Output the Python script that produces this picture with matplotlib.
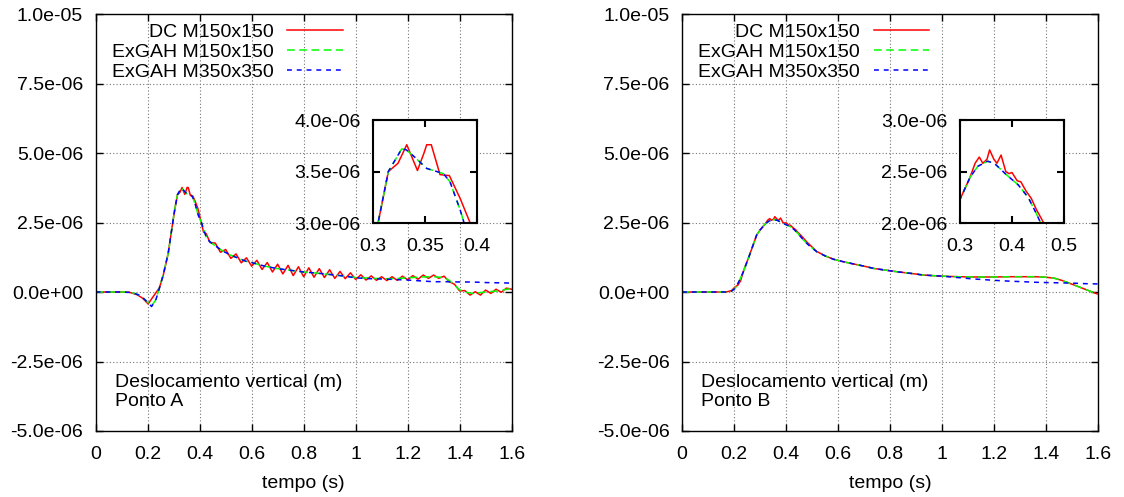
import matplotlib
matplotlib.use("Agg")
import matplotlib.pyplot as plt
from matplotlib.ticker import FuncFormatter
import numpy as np

plt.rcParams['font.family'] = ['Liberation Sans', 'DejaVu Sans']
plt.rcParams['font.size'] = 14

labels = ['DC M150x150', 'ExGAH M150x150', 'ExGAH M350x350']
colors = ['#ff0000', '#00ff00', '#0000ff']

# ponto A (valores em 1e-6 m)
tA_dc = [0, 0.10, 0.13, 0.16, 0.18, 0.202, 0.215, 0.23, 0.245, 0.26, 0.279, 0.298,
         0.305, 0.3147, 0.324, 0.3324, 0.3427, 0.349, 0.3516, 0.356, 0.3644, 0.3734,
         0.3837, 0.393, 0.405, 0.415, 0.425, 0.44,
         0.46, 0.48, 0.50, 0.52, 0.54, 0.56, 0.58, 0.60, 0.62, 0.64, 0.66, 0.68, 0.70,
         0.72, 0.74, 0.76, 0.78, 0.80, 0.82, 0.84, 0.86, 0.88, 0.90, 0.92, 0.94, 0.96,
         0.98, 1.00, 1.02, 1.04, 1.06, 1.08, 1.10, 1.12, 1.14, 1.16, 1.18, 1.20, 1.22,
         1.24, 1.26, 1.28, 1.30, 1.32, 1.34, 1.36, 1.38, 1.40, 1.42, 1.44, 1.46, 1.48,
         1.50, 1.52, 1.54, 1.56, 1.58, 1.60]
yA_dc = [0, 0, -0.01, -0.10, -0.22, -0.43, -0.25, -0.05, 0.15, 0.60, 1.39, 2.59,
         3.01, 3.50, 3.58, 3.76, 3.51, 3.68, 3.76, 3.76, 3.47, 3.46,
         3.24, 3.01, 2.55, 2.15, 2.10, 1.78,
         1.76, 1.43, 1.53, 1.21, 1.37, 1.05, 1.23, 0.93, 1.14, 0.81, 1.06, 0.72, 1.00,
         0.65, 0.96, 0.59, 0.91, 0.55, 0.87, 0.53, 0.84, 0.52, 0.80, 0.49, 0.74, 0.48,
         0.69, 0.45, 0.62, 0.43, 0.58, 0.42, 0.55, 0.41, 0.55, 0.42, 0.57, 0.44, 0.59,
         0.46, 0.61, 0.49, 0.61, 0.49, 0.57, 0.37, 0.28, 0.04, 0.05, -0.11, 0.01, -0.11,
         0.07, -0.05, 0.10, -0.01, 0.14, 0.10]

tA_g150 = [0, 0.10, 0.14, 0.17, 0.19, 0.215, 0.23, 0.241, 0.26, 0.279, 0.298, 0.305,
           0.3147, 0.3276, 0.332, 0.34, 0.3516, 0.3676, 0.374, 0.3837, 0.395, 0.408,
           0.427, 0.44, 0.465, 0.48, 0.50, 0.52, 0.54, 0.56, 0.58, 0.60, 0.65, 0.70,
           0.75, 0.80, 0.85, 0.90, 0.95, 1.00, 1.05, 1.10, 1.15, 1.20, 1.25, 1.30, 1.34,
           1.36, 1.38, 1.40, 1.42, 1.45, 1.50, 1.55, 1.60]
yA_g150 = [0, 0, -0.02, -0.12, -0.28, -0.50, -0.30, 0.01, 0.62, 1.39, 2.59, 3.01,
           3.50, 3.72, 3.71, 3.64, 3.53, 3.48, 3.40, 3.13, 2.75, 2.47,
           1.93, 1.80, 1.63, 1.53, 1.42, 1.32, 1.25, 1.17, 1.10, 1.06, 0.93, 0.84,
           0.78, 0.72, 0.68, 0.63, 0.58, 0.52, 0.50, 0.48, 0.48, 0.51, 0.54, 0.55, 0.52,
           0.42, 0.25, 0.08, 0.00, -0.05, 0.00, 0.04, 0.13]

tA_g350 = [0, 0.10, 0.14, 0.17, 0.19, 0.215, 0.23, 0.241, 0.26, 0.279, 0.298, 0.305,
           0.3147, 0.3276, 0.332, 0.34, 0.3516, 0.3676, 0.374, 0.3837, 0.395, 0.408,
           0.427, 0.44, 0.465, 0.48, 0.50, 0.52, 0.54, 0.56, 0.58, 0.60, 0.65, 0.70,
           0.75, 0.80, 0.85, 0.90, 0.95, 1.00, 1.05, 1.10, 1.15, 1.20, 1.25, 1.30, 1.35,
           1.40, 1.45, 1.50, 1.55, 1.60]
yA_g350 = [0, 0, -0.02, -0.12, -0.28, -0.52, -0.32, 0.00, 0.62, 1.39, 2.59, 3.01,
           3.50, 3.72, 3.71, 3.64, 3.53, 3.48, 3.40, 3.13, 2.75, 2.47,
           1.93, 1.80, 1.63, 1.53, 1.42, 1.32, 1.25, 1.17, 1.10, 1.06, 0.93, 0.84,
           0.78, 0.72, 0.68, 0.63, 0.58, 0.51, 0.48, 0.47, 0.45, 0.43, 0.40, 0.37, 0.37,
           0.36, 0.36, 0.34, 0.33, 0.32]

# ponto B (valores em 1e-6 m)
tB_dc = [0, 0.17, 0.19, 0.204, 0.215, 0.225, 0.236, 0.262, 0.287, 0.30, 0.31, 0.319,
         0.329, 0.337, 0.344, 0.352, 0.357, 0.365, 0.371, 0.379, 0.388, 0.394, 0.40,
         0.41, 0.417, 0.427, 0.437, 0.447, 0.46, 0.48, 0.50, 0.518, 0.55, 0.582, 0.62,
         0.659, 0.70, 0.736, 0.78, 0.826, 0.88, 0.928, 1.0, 1.06, 1.12, 1.2, 1.26,
         1.313, 1.36, 1.40, 1.43, 1.46, 1.50, 1.55, 1.60]
yB_dc = [0, 0, 0.05, 0.18, 0.25, 0.40, 0.75, 1.39, 2.05, 2.23, 2.34, 2.44,
         2.58, 2.64, 2.58, 2.62, 2.71, 2.62, 2.58, 2.66, 2.50, 2.48, 2.49,
         2.41, 2.40, 2.31, 2.24, 2.13, 2.01, 1.80, 1.62, 1.46, 1.30, 1.18, 1.09,
         1.01, 0.93, 0.85, 0.79, 0.73, 0.67, 0.61, 0.57, 0.55, 0.54, 0.54, 0.55,
         0.55, 0.55, 0.53, 0.50, 0.42, 0.28, 0.10, -0.08]

tB_g150 = [0, 0.17, 0.19, 0.204, 0.22, 0.236, 0.262, 0.287, 0.30, 0.31, 0.319, 0.334,
           0.353, 0.366, 0.389, 0.412, 0.431, 0.447, 0.467, 0.49, 0.518, 0.55, 0.582,
           0.62, 0.659, 0.70, 0.736, 0.78, 0.826, 0.88, 0.928, 1.0, 1.06, 1.12, 1.2,
           1.26, 1.313, 1.36, 1.40, 1.43, 1.46, 1.50, 1.55, 1.60]
yB_g150 = [0, 0, 0.03, 0.13, 0.40, 0.73, 1.39, 2.05, 2.23, 2.34, 2.44, 2.55,
           2.60, 2.58, 2.47, 2.37, 2.25, 2.09, 1.87, 1.66, 1.45, 1.30, 1.18,
           1.09, 1.01, 0.93, 0.85, 0.79, 0.73, 0.67, 0.61, 0.57, 0.55, 0.54, 0.54,
           0.55, 0.55, 0.55, 0.53, 0.50, 0.42, 0.28, 0.10, -0.08]

tB_g350 = [0, 0.17, 0.19, 0.204, 0.22, 0.236, 0.262, 0.287, 0.30, 0.31, 0.319, 0.334,
           0.353, 0.366, 0.389, 0.412, 0.431, 0.447, 0.467, 0.49, 0.518, 0.55, 0.582,
           0.62, 0.659, 0.70, 0.736, 0.78, 0.826, 0.88, 0.928, 1.0, 1.06, 1.12, 1.2,
           1.26, 1.313, 1.36, 1.40, 1.45, 1.50, 1.55, 1.60]
yB_g350 = [0, 0, 0.03, 0.13, 0.40, 0.73, 1.39, 2.05, 2.23, 2.34, 2.44, 2.55,
           2.60, 2.58, 2.47, 2.37, 2.25, 2.09, 1.87, 1.66, 1.45, 1.30, 1.18,
           1.09, 1.01, 0.93, 0.85, 0.79, 0.73, 0.67, 0.61, 0.57, 0.52, 0.47, 0.42,
           0.39, 0.37, 0.35, 0.34, 0.33, 0.32, 0.30, 0.29]

xticks = [0, 0.2, 0.4, 0.6, 0.8, 1.0, 1.2, 1.4, 1.6]
yticks = [-5e-6, -2.5e-6, 0, 2.5e-6, 5e-6, 7.5e-6, 1e-5]

sci = FuncFormatter(lambda v, p: '%.1e' % v)
plain = FuncFormatter(lambda v, p: '%g' % round(v, 4))

styles = [dict(ls='-'), dict(ls=(0, (5, 3))), dict(ls=(0, (3.2, 3.2)))]


def draw_series(ax, series):
    for (t, y), c, st, lab in zip(series, colors, styles, labels):
        ax.plot(t, np.array(y) * 1e-6, color=c, lw=1.1, label=lab, **st)


def setup_ticks(ax, lw):
    ax.tick_params(direction='in', top=True, right=True, length=5, width=lw, pad=9)
    ax.tick_params(axis='x', pad=10.5)
    for s in ax.spines.values():
        s.set_linewidth(lw)


fig = plt.figure(figsize=(11.24, 4.97), dpi=100)

panels = [
    ([(tA_dc, yA_dc), (tA_g150, yA_g150), (tA_g350, yA_g350)], 'Ponto A',
     0.0851, (0.3, 0.4), [0.3, 0.35, 0.4], [3.0e-6, 3.5e-6, 4.0e-6], 0.3319),
    ([(tB_dc, yB_dc), (tB_g150, yB_g150), (tB_g350, yB_g350)], 'Ponto B',
     0.6068, (0.3, 0.5), [0.3, 0.4, 0.5], [2.0e-6, 2.5e-6, 3.0e-6], 0.8541),
]

for series, ponto, left, ixlim, ixt, iyt, ileft in panels:
    ax = fig.add_axes([left, 0.1328, 0.3701, 0.8390])
    draw_series(ax, series)
    ax.set_xlim(0, 1.6)
    ax.set_ylim(-5e-6, 1e-5)
    ax.set_xticks(xticks)
    ax.set_yticks(yticks)
    ax.xaxis.set_major_formatter(plain)
    ax.yaxis.set_major_formatter(sci)
    ax.grid(True, color='0.45', ls=(0, (1, 2)), lw=0.8)
    setup_ticks(ax, 1.0)
    ax.set_xlabel('tempo (s)', labelpad=9)
    ax.text(0.046, 0.1055, 'Deslocamento vertical (m)', transform=ax.transAxes,
            va='baseline', ha='left')
    ax.text(0.046, 0.06, ponto, transform=ax.transAxes, va='baseline', ha='left')
    ax.legend(loc='upper right', bbox_to_anchor=(0.594, 0.978), frameon=False,
              markerfirst=False, handlelength=2.85, handletextpad=0.7,
              labelspacing=0.13, borderpad=0, borderaxespad=0)

    ins = fig.add_axes([ileft, 0.5513, 0.0925, 0.2072])
    ins.set_facecolor('white')
    draw_series(ins, series)
    ins.set_xlim(*ixlim)
    ins.set_ylim(iyt[0], iyt[-1])
    ins.set_xticks(ixt)
    ins.set_yticks(iyt)
    ins.xaxis.set_major_formatter(plain)
    ins.yaxis.set_major_formatter(sci)
    setup_ticks(ins, 1.5)

fig.savefig('out.png', dpi=100)
